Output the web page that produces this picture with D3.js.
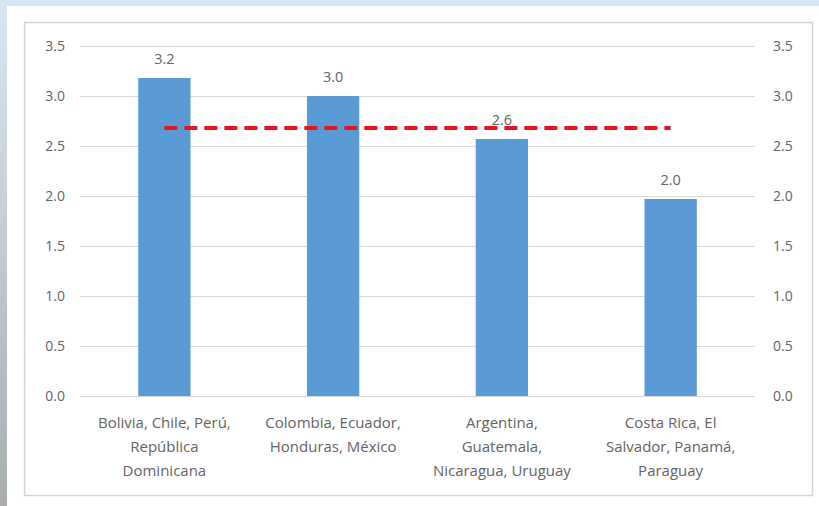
<!DOCTYPE html>
<html>
<head>
<meta charset="utf-8">
<script src="https://cdn.jsdelivr.net/npm/d3@7"></script>
<style>
  html, body { margin: 0; padding: 0; }
  body { width: 819px; height: 506px; overflow: hidden; background: #d7e7f3; }
  svg { display: block; font-family: "Open Sans", "Liberation Sans", sans-serif; }
</style>
</head>
<body>
<div id="chart"></div>
<script>
const categories = [
  ['Bolivia, Chile, Perú,', 'República', 'Dominicana'],
  ['Colombia, Ecuador,', 'Honduras, México'],
  ['Argentina,', 'Guatemala,', 'Nicaragua, Uruguay'],
  ['Costa Rica, El', 'Salvador, Panamá,', 'Paraguay']
];
const barValues = [3.18, 3.0, 2.57, 1.97];
const avgValues = [2.68, 2.68, 2.68, 2.68];
const yTicks = [0, 0.5, 1.0, 1.5, 2.0, 2.5, 3.0, 3.5];

const width = 819;
const height = 506;
const plot = { left: 80, right: 755, top: 46, bottom: 396 };
const textColor = '#646464';

const svg = d3.select('#chart').append('svg')
  .attr('width', width)
  .attr('height', height);

// page background with a grey strip on the left
const grad = svg.append('defs').append('linearGradient')
  .attr('id', 'strip')
  .attr('x1', 0).attr('y1', 0).attr('x2', 0).attr('y2', 1);
grad.append('stop').attr('offset', '0%').attr('stop-color', '#d7e7f3');
grad.append('stop').attr('offset', '35%').attr('stop-color', '#c9d3da');
grad.append('stop').attr('offset', '100%').attr('stop-color', '#a9adaf');
svg.append('rect')
  .attr('x', 0).attr('y', 0)
  .attr('width', 8).attr('height', height)
  .attr('fill', 'url(#strip)');

// white card and chart frame
svg.append('rect')
  .attr('x', 7).attr('y', 6)
  .attr('width', width - 7).attr('height', height - 6)
  .attr('fill', '#ffffff');
svg.append('rect')
  .attr('x', 24.5).attr('y', 22.5)
  .attr('width', 788).attr('height', 473)
  .attr('fill', 'none')
  .attr('stroke', '#d4d4d4')
  .attr('stroke-width', 1.5);

const x = d3.scaleBand()
  .domain(d3.range(categories.length))
  .range([plot.left, plot.right])
  .paddingInner(0.69)
  .paddingOuter(0.345);

const y = d3.scaleLinear()
  .domain([0, 3.5])
  .range([plot.bottom, plot.top]);

// gridlines
svg.append('g')
  .selectAll('line')
  .data(yTicks)
  .join('line')
  .attr('x1', plot.left)
  .attr('x2', plot.right)
  .attr('y1', d => Math.round(y(d)) + 0.5)
  .attr('y2', d => Math.round(y(d)) + 0.5)
  .attr('stroke', '#d9d9d9')
  .attr('stroke-width', 1);

// left and right axes
const fmt = d3.format('.1f');
const leftAxis = svg.append('g')
  .attr('transform', `translate(${plot.left},0)`)
  .call(d3.axisLeft(y).tickValues(yTicks).tickFormat(fmt).tickSize(0).tickPadding(15));
const rightAxis = svg.append('g')
  .attr('transform', `translate(${plot.right},0)`)
  .call(d3.axisRight(y).tickValues(yTicks).tickFormat(fmt).tickSize(0).tickPadding(18));
[leftAxis, rightAxis].forEach(ax => {
  ax.select('.domain').remove();
  ax.selectAll('text')
    .attr('fill', textColor)
    .style('font-size', '14px')
    .style('font-family', '"Open Sans", sans-serif');
});

// bars
svg.append('g')
  .selectAll('rect')
  .data(barValues)
  .join('rect')
  .attr('x', (d, i) => x(i))
  .attr('y', d => y(d))
  .attr('width', x.bandwidth())
  .attr('height', d => y(0) - y(d))
  .attr('fill', '#5b9bd5');

// bar value labels
svg.append('g')
  .selectAll('text')
  .data(barValues)
  .join('text')
  .attr('x', (d, i) => x(i) + x.bandwidth() / 2)
  .attr('y', d => y(d) - 14)
  .attr('text-anchor', 'middle')
  .attr('fill', textColor)
  .style('font-size', '14.5px')
  .text(d => fmt(d));

// average dashed line
const line = d3.line()
  .x((d, i) => x(i) + x.bandwidth() / 2)
  .y(d => y(d));
svg.append('path')
  .datum(avgValues)
  .attr('d', line)
  .attr('fill', 'none')
  .attr('stroke', '#e8141c')
  .attr('stroke-width', 4)
  .attr('stroke-dasharray', '13,7');

// category labels
const catGroup = svg.append('g')
  .selectAll('text')
  .data(categories)
  .join('text')
  .attr('x', (d, i) => x(i) + x.bandwidth() / 2)
  .attr('y', 428)
  .attr('text-anchor', 'middle')
  .attr('fill', textColor)
  .style('font-size', '15px');
catGroup.selectAll('tspan')
  .data(d => d)
  .join('tspan')
  .attr('x', function () { return this.parentNode.getAttribute('x'); })
  .attr('dy', (d, i) => i === 0 ? 0 : 24)
  .text(d => d);
</script>
</body>
</html>
